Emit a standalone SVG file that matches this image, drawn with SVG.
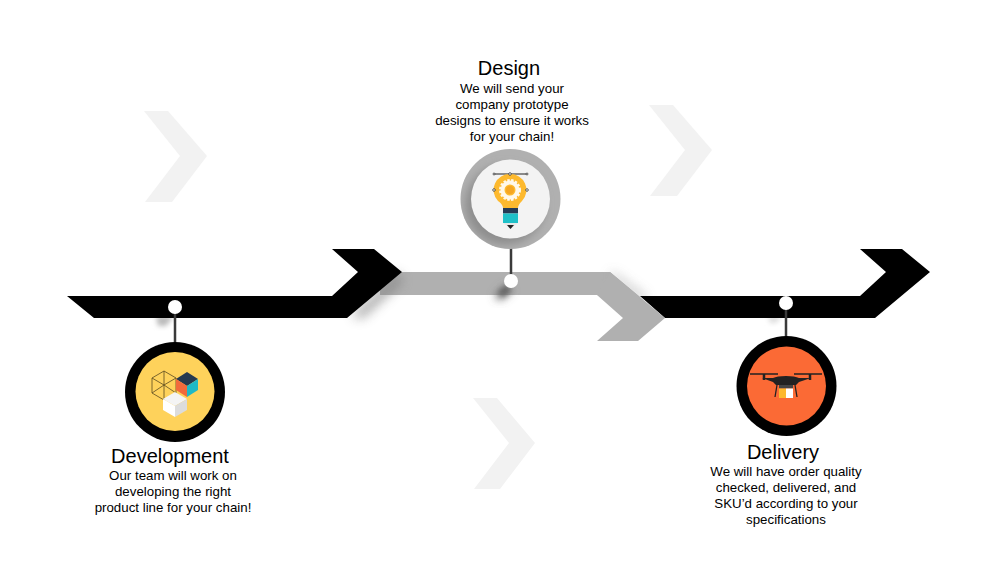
<svg xmlns="http://www.w3.org/2000/svg" width="1000" height="584" viewBox="0 0 1000 584">
<defs>
<style>
.t{font-family:"Liberation Sans",Arial,sans-serif;text-anchor:middle;fill:#000}
.h{font-size:20px}
.b{font-size:13.300px}
.chev{fill:#f2f2f2}
.stem{stroke:#3a3a3a;stroke-width:2.500;fill:none}
.dot{fill:#fff}
.hn{fill:#fff;stroke:#222;stroke-width:.7}
</style>
<filter id="blur" x="-50%" y="-50%" width="200%" height="200%"><feGaussianBlur stdDeviation="6"/></filter>
<filter id="blur2" x="-50%" y="-50%" width="200%" height="200%"><feGaussianBlur stdDeviation="2.500"/></filter>
<filter id="blur3" x="-50%" y="-50%" width="200%" height="200%"><feGaussianBlur stdDeviation="4"/></filter>
<clipPath id="ring"><circle cx="510.500" cy="199" r="50"/></clipPath>
<clipPath id="belowBand1"><rect x="100" y="318" width="150" height="30"/></clipPath>
<clipPath id="belowBand3"><rect x="700" y="318" width="150" height="30"/></clipPath>
</defs>
<rect width="1000" height="584" fill="#fff"/>
<g id="chevrons">
<polygon class="chev" points="144,111 168,111 207,156 172,202 145,202 180,156"/>
<polygon class="chev" points="649,105 673,105 712,150 677,196 650,196 685,150"/>
<polygon class="chev" points="473,398 497,398 535,443 500,489 474,489 509,443"/>
</g>
<g id="connectors">
<polygon id="arrow-2-bar" points="380,272 610,272 640,297 625,300 597,295 380,295" fill="#b0b0b0"/>
<polygon points="398,272 352,316 362,318 402,282" fill="#808080" filter="url(#blur)" opacity=".75"/>
<polygon points="612,272 648,298 640,300 610,276" fill="#aaa" filter="url(#blur)" opacity=".8"/>
<g clip-path="url(#belowBand1)"><polygon points="156,316 174,316 166,326 158,326" fill="#bbb" filter="url(#blur2)"/></g>
<g clip-path="url(#belowBand3)"><polygon points="768,316 782,316 776,323 770,323" fill="#ddd" filter="url(#blur2)"/></g>
<polygon id="arrow-1" points="67,296 332,296 358,272 332,249 374,249 402,272 347,318 94,318" fill="#000"/>
<polygon id="arrow-3" points="640,296 860,296 886,272 860,249 902,249 930,272 875,318 665,318" fill="#000"/>
<polygon id="arrow-2-head" points="610,272 665,318 638,341 597,341 623,318 597,295" fill="#b0b0b0"/>
<polygon points="506,285 512,291 501,300 494,297" fill="#666" filter="url(#blur3)"/>
<polygon points="506,285 511,290 503,296 498,293" fill="#666" filter="url(#blur2)"/>
<path class="stem" d="M175 307V345M511 245V281M786 303V338"/>
</g>
<g id="development">
<circle cx="175" cy="392" r="50" fill="#000"/>
<circle cx="175" cy="391.500" r="39.500" fill="#fed25b"/>
<g fill="none" stroke="#5a4a20" stroke-width=".8"><polygon points="164,371 176,378 176,393 164,400 152,393 152,378"/><path d="M152 378L164 385L176 378M164 385V400M164 371V385M152 393L164 385L176 393"/></g>
<polygon points="187,372 198,379 187,386 176,379" fill="#263a50"/>
<polygon points="176,379 187,386 187,397 176,390" fill="#f26a3c"/>
<polygon points="187,386 198,379 198,390 187,397" fill="#1fb9c6"/>
<polygon points="175,392 187,399 175,406 163,399" fill="#f4f4f4"/>
<polygon points="163,399 175,406 175,417 163,410" fill="#fff"/>
<polygon points="175,406 187,399 187,410 175,417" fill="#dcdcdc"/>
<circle class="dot" cx="175" cy="307" r="7"/>
<text class="t h" x="170" y="463">Development</text>
<text class="t b" x="173" y="480">Our team will work on</text>
<text class="t b" x="173" y="496">developing the right</text>
<text class="t b" x="173" y="512">product line for your chain!</text>
</g>
<g id="design">
<circle cx="510.500" cy="199" r="50" fill="#b0b0b0"/>
<g clip-path="url(#ring)"><circle cx="505" cy="205" r="40" fill="#8e8e8e" filter="url(#blur3)"/></g>
<circle cx="510.500" cy="199" r="39.500" fill="#f3f3f3"/>
<path d="M494 174H527" stroke="#222" stroke-width="1"/>
<path d="M510 174A16 16 0 0 1 522 201C519 204 518 206 518 208H503C503 206 502 204 498 201A16 16 0 0 1 510 174Z" fill="#fdb92e"/>
<circle cx="510" cy="190" r="10" fill="none" stroke="#fff" stroke-width="2" stroke-dasharray="2.500 1.500" opacity=".9"/>
<circle cx="510" cy="190" r="7.500" fill="none" stroke="#fff" stroke-width="4" opacity=".9"/>
<circle cx="510" cy="190" r="4" fill="#f5a623"/>
<circle class="hn" cx="494" cy="174" r="1"/><circle class="hn" cx="527" cy="174" r="1"/><circle class="hn" cx="510" cy="174" r="1.300"/><circle class="hn" cx="494" cy="190" r="1.300"/><circle class="hn" cx="527" cy="190" r="1.300"/>
<rect x="503" y="208" width="15" height="5.500" fill="#243a55"/>
<rect x="503" y="213.500" width="15" height="9.500" fill="#1fc0c8"/>
<polygon points="503,223 518,223 510.500,229" fill="#e8e8e8"/>
<polygon points="507,225 514,225 510.500,229" fill="#222"/>
<circle class="dot" cx="511" cy="281" r="7"/>
<text class="t h" x="509" y="75">Design</text>
<text class="t b" x="512" y="93">We will send your</text>
<text class="t b" x="512" y="109">company prototype</text>
<text class="t b" x="512" y="125">designs to ensure it works</text>
<text class="t b" x="512" y="141">for your chain!</text>
</g>
<g id="delivery">
<circle cx="786.500" cy="386" r="50" fill="#000"/>
<circle cx="786.500" cy="386" r="39.500" fill="#fb6a35"/>
<path d="M750 374H778M794 374H822" stroke="#222" stroke-width="1.300"/>
<path d="M764 374V380M810 374V380" stroke="#222" stroke-width="2.500"/>
<path d="M762 378H773Q777 376 786 376Q795 376 799 378H811L799 382L796 385H776L773 382Z" fill="#222"/>
<path d="M777 385L775 397M795 385L797 397" stroke="#222" stroke-width="1.300"/>
<rect x="779" y="385" width="14" height="3.500" fill="#444"/>
<rect x="779" y="388.500" width="7" height="9.500" fill="#fdb92e"/>
<rect x="786" y="388.500" width="7" height="9.500" fill="#fff"/>
<circle class="dot" cx="786" cy="303" r="7"/>
<text class="t h" x="783" y="459">Delivery</text>
<text class="t b" x="786" y="476">We will have order quality</text>
<text class="t b" x="786" y="492">checked, delivered, and</text>
<text class="t b" x="786" y="508">SKU’d according to your</text>
<text class="t b" x="786" y="524">specifications</text>
</g>
</svg>
